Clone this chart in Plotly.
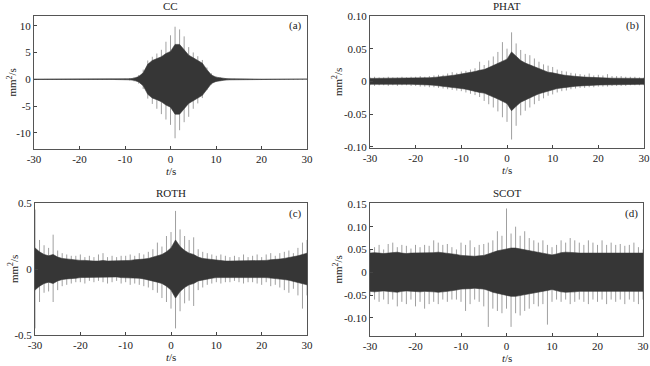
import plotly.graph_objects as go

# time axis (s), 1 s steps
t = list(range(-30, 31))

# ---- (a) CC ----
cc_core = [0.03]*20 + [0.05, 0.1, 0.2, 0.5, 1.2, 2.8, 3.5, 3.8, 4.2, 4.8, 5.2, 6.5, 6.5, 5.5, 4.5, 4.0, 3.5,
           3.0, 1.8, 0.8, 0.4, 0.25, 0.15, 0.1, 0.07, 0.05] + [0.03]*15
cc_hi = [0.05]*20 + [0.1, 0.2, 0.4, 0.8, 1.8, 3.5, 4.2, 4.8, 5.5, 7.0, 8.2, 9.8, 9.3, 8.0, 6.0, 5.0, 4.3,
         3.6, 2.2, 1.1, 0.5, 0.3, 0.2, 0.12, 0.08, 0.05] + [0.05]*15
cc_lo = [-0.05]*20 + [-0.1, -0.2, -0.4, -0.8, -1.8, -3.6, -4.6, -5.5, -6.5, -7.5, -8.5, -11.0, -9.5, -8.0,
          -7.0, -5.5, -4.5, -3.5, -2.0, -1.0, -0.5, -0.3, -0.2, -0.12, -0.08, -0.05] + [-0.05]*15

# ---- (b) PHAT ----
phat_core = [0.0045]*10 + [0.0045, 0.005, 0.005, 0.0055, 0.006, 0.0065, 0.007, 0.008, 0.009, 0.010, 0.011,
             0.012, 0.013, 0.015, 0.017, 0.018, 0.021, 0.024, 0.027, 0.030, 0.034, 0.045, 0.038, 0.032,
             0.028, 0.025, 0.022, 0.019, 0.016, 0.014, 0.013, 0.011, 0.010, 0.009, 0.008, 0.0075, 0.007,
             0.0065, 0.006, 0.006, 0.0055, 0.005, 0.005, 0.0048, 0.0046, 0.0045, 0.0045, 0.0045, 0.0045,
             0.0045, 0.0045]
phat_hi = [0.006, 0.007, 0.006, 0.006, 0.007, 0.006, 0.006, 0.007, 0.006, 0.007, 0.007, 0.008, 0.007,
           0.008, 0.009, 0.010, 0.010, 0.012, 0.014, 0.013, 0.015, 0.016, 0.018, 0.020, 0.030, 0.025, 0.032,
           0.038, 0.045, 0.060, 0.050, 0.075, 0.058, 0.048, 0.042, 0.040, 0.035, 0.030, 0.026, 0.024, 0.022,
           0.018, 0.016, 0.015, 0.013, 0.012, 0.011, 0.010, 0.012, 0.009, 0.010, 0.009, 0.011, 0.008, 0.008,
           0.008, 0.007, 0.007, 0.007, 0.006, 0.006]
phat_lo = [-0.006, -0.007, -0.006, -0.006, -0.007, -0.006, -0.007, -0.006, -0.006, -0.007, -0.007, -0.008,
           -0.008, -0.009, -0.009, -0.010, -0.011, -0.012, -0.013, -0.014, -0.015, -0.017, -0.019, -0.021,
           -0.024, -0.030, -0.035, -0.040, -0.046, -0.055, -0.062, -0.089, -0.068, -0.052, -0.045, -0.040,
           -0.035, -0.030, -0.026, -0.022, -0.020, -0.017, -0.015, -0.014, -0.012, -0.011, -0.010, -0.010,
           -0.009, -0.009, -0.008, -0.008, -0.008, -0.007, -0.007, -0.007, -0.007, -0.006, -0.006, -0.006,
           -0.006]

# ---- (c) ROTH ----
roth_core = [0.16, 0.13, 0.11, 0.10, 0.11, 0.09, 0.08, 0.075, 0.07, 0.07, 0.065, 0.065, 0.06, 0.06, 0.06,
             0.065, 0.06, 0.06, 0.06, 0.065, 0.065, 0.065, 0.07, 0.07, 0.075, 0.08, 0.09, 0.10, 0.11, 0.13,
             0.16, 0.22, 0.17, 0.14, 0.12, 0.11, 0.09, 0.08, 0.075, 0.07, 0.065, 0.065, 0.06, 0.06, 0.06,
             0.06, 0.06, 0.06, 0.06, 0.065, 0.065, 0.065, 0.07, 0.07, 0.075, 0.08, 0.085, 0.09, 0.10, 0.11,
             0.12]
roth_hi = [0.45, 0.22, 0.18, 0.16, 0.26, 0.14, 0.12, 0.11, 0.10, 0.10, 0.11, 0.09, 0.10, 0.09, 0.11, 0.12,
           0.09, 0.10, 0.09, 0.10, 0.10, 0.11, 0.10, 0.12, 0.11, 0.13, 0.15, 0.20, 0.17, 0.25, 0.28, 0.44,
           0.30, 0.25, 0.22, 0.24, 0.15, 0.13, 0.12, 0.11, 0.10, 0.11, 0.10, 0.09, 0.10, 0.09, 0.11, 0.09,
           0.10, 0.11, 0.09, 0.11, 0.12, 0.10, 0.12, 0.13, 0.14, 0.12, 0.16, 0.20, 0.22]
roth_lo = [-0.45, -0.25, -0.18, -0.17, -0.25, -0.16, -0.13, -0.12, -0.11, -0.10, -0.10, -0.11, -0.09, -0.10,
           -0.09, -0.10, -0.11, -0.10, -0.09, -0.11, -0.10, -0.12, -0.11, -0.12, -0.13, -0.14, -0.16, -0.18,
           -0.22, -0.25, -0.30, -0.45, -0.32, -0.26, -0.24, -0.28, -0.16, -0.14, -0.12, -0.11, -0.10, -0.11,
           -0.10, -0.10, -0.09, -0.10, -0.11, -0.10, -0.10, -0.11, -0.12, -0.10, -0.13, -0.12, -0.14, -0.16,
           -0.18, -0.15, -0.20, -0.30, -0.20]

# ---- (d) SCOT ----
scot_core = [0.042, 0.043, 0.042, 0.041, 0.042, 0.043, 0.044, 0.042, 0.041, 0.042, 0.042, 0.043, 0.042,
             0.042, 0.043, 0.044, 0.043, 0.042, 0.041, 0.039, 0.037, 0.036, 0.036, 0.035, 0.036, 0.037,
             0.040, 0.044, 0.047, 0.049, 0.051, 0.053, 0.053, 0.051, 0.050, 0.048, 0.046, 0.044, 0.042,
             0.040, 0.038, 0.040, 0.043, 0.044, 0.044, 0.043, 0.042, 0.042, 0.042, 0.041, 0.042, 0.042,
             0.041, 0.042, 0.042, 0.041, 0.042, 0.041, 0.042, 0.042, 0.042]
scot_hi = [0.05, 0.055, 0.06, 0.05, 0.062, 0.065, 0.055, 0.06, 0.058, 0.052, 0.06, 0.055, 0.06, 0.058, 0.07,
           0.065, 0.06, 0.062, 0.055, 0.05, 0.065, 0.06, 0.07, 0.055, 0.06, 0.062, 0.065, 0.07, 0.09, 0.08,
           0.14, 0.085, 0.10, 0.08, 0.09, 0.075, 0.07, 0.065, 0.07, 0.06, 0.055, 0.06, 0.07, 0.065, 0.075,
           0.07, 0.065, 0.06, 0.07, 0.065, 0.06, 0.07, 0.06, 0.065, 0.06, 0.062, 0.058, 0.06, 0.065, 0.055,
           0.05]
scot_lo = [-0.05, -0.06, -0.065, -0.06, -0.07, -0.06, -0.075, -0.065, -0.07, -0.06, -0.075, -0.065, -0.08,
           -0.07, -0.065, -0.07, -0.06, -0.065, -0.06, -0.06, -0.065, -0.085, -0.07, -0.06, -0.065, -0.075,
           -0.12, -0.08, -0.085, -0.09, -0.08, -0.12, -0.09, -0.095, -0.085, -0.08, -0.07, -0.075, -0.07,
           -0.115, -0.065, -0.06, -0.065, -0.06, -0.07, -0.065, -0.06, -0.065, -0.07, -0.06, -0.065, -0.06,
           -0.07, -0.06, -0.065, -0.06, -0.07, -0.06, -0.065, -0.07, -0.06]

titles = ["CC", "PHAT", "ROTH", "SCOT"]
labels = ["(a)", "(b)", "(c)", "(d)"]
x_ticks = [-30, -20, -10, 0, 10, 20, 30]
y_ticks = [[10, 5, 0, -5, -10],
           [0.10, 0.05, 0, -0.05, -0.10],
           [0.5, 0, -0.5],
           [0.15, 0.10, 0.05, 0, -0.05, -0.10]]
y_ticktext = [["10", "5", "0", "-5", "-10"],
              ["0.10", "0.05", "0", "-0.05", "-0.10"],
              ["0.5", "0", "-0.5"],
              ["0.15", "0.10", "0.05", "0", "-0.05", "-0.10"]]
y_ranges = [[-13.0, 11.8], [-0.102, 0.10], [-0.5, 0.5], [-0.14, 0.152]]

panels = [(cc_core, cc_hi, cc_lo), (phat_core, phat_hi, phat_lo),
          (roth_core, roth_hi, roth_lo), (scot_core, scot_hi, scot_lo)]

W, H = 650, 366
# plot-area pixel boxes: (left, right, top, bottom)
boxes = [(34, 307, 16, 149), (370, 644, 16, 148), (35, 307, 203, 335), (370, 643, 203, 336)]

FONT = "Liberation Serif, Times New Roman, serif"
TXT = dict(family=FONT, size=11, color="#222222")
fig = go.Figure()
annotations = []

for i, ((core, hi, lo), box) in enumerate(zip(panels, boxes)):
    xa = "x" if i == 0 else f"x{i+1}"
    ya = "y" if i == 0 else f"y{i+1}"
    # light-grey spikes reaching the peak envelopes
    sx, sy = [], []
    for tk, h, lw in zip(t, hi, lo):
        sx += [tk, tk, None]
        sy += [lw, h, None]
    fig.add_trace(go.Scatter(x=sx, y=sy, mode="lines", xaxis=xa, yaxis=ya,
                             line=dict(color="#959595", width=0.9), hoverinfo="skip",
                             showlegend=False))
    # dense dark core of the waveform
    fig.add_trace(go.Scatter(x=t + t[::-1], y=core + [-c for c in core[::-1]],
                             fill="toself", fillcolor="#363636", mode="lines",
                             line=dict(color="#363636", width=0.6), xaxis=xa, yaxis=ya,
                             hoverinfo="skip", showlegend=False))

    l, r, tp, bt = box
    xd = [l / W, r / W]
    yd = [1 - bt / H, 1 - tp / H]
    axis_common = dict(showline=True, linecolor="#555555", linewidth=1, mirror=True,
                       ticks="inside", ticklen=3, tickcolor="#444444", showgrid=False,
                       zeroline=False, automargin=False, tickfont=TXT)
    fig.layout[("xaxis" if i == 0 else f"xaxis{i+1}")] = dict(
        domain=xd, range=[-30, 30], anchor=ya, tickvals=x_ticks,
        ticktext=[str(v) for v in x_ticks], **axis_common)
    fig.layout[("yaxis" if i == 0 else f"yaxis{i+1}")] = dict(
        domain=yd, range=y_ranges[i], anchor=xa, tickvals=y_ticks[i],
        ticktext=y_ticktext[i], **axis_common)

    cx = (l + r) / 2
    ann = dict(xref="paper", yref="paper", showarrow=False, font=TXT,
               xanchor="center", yanchor="middle")
    annotations.append(dict(ann, x=cx / W, y=1 - (tp - 10) / H, text=titles[i]))
    annotations.append(dict(ann, x=(r - 12) / W, y=1 - (tp + 10) / H, text=labels[i]))
    annotations.append(dict(ann, x=cx / W, y=1 - (bt + 22) / H, text="<i>t</i>/s"))
    annotations.append(dict(ann, x=(l - 22) / W if i % 2 == 0 else (l - 33) / W,
                            y=1 - ((tp + bt) / 2) / H, text="mm<sup>2</sup>/s", textangle=-90))

fig.update_layout(width=W, height=H, margin=dict(l=0, r=0, t=0, b=0, pad=0, autoexpand=False),
                  paper_bgcolor="white", plot_bgcolor="white",
                  annotations=annotations, showlegend=False)

fig.write_html("out.html", config={"displayModeBar": False},
               post_script="document.body.style.margin='0';")
